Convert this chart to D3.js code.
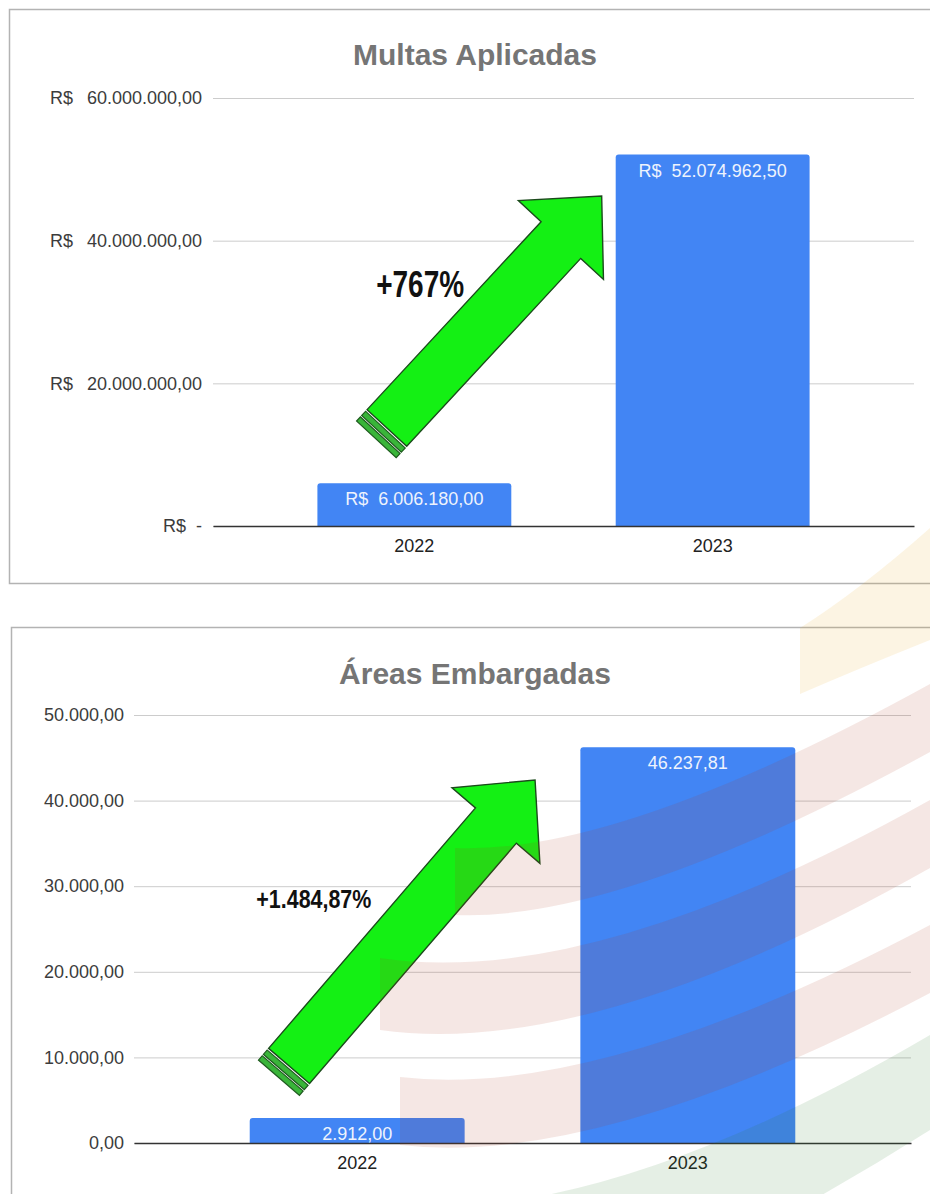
<!DOCTYPE html>
<html>
<head>
<meta charset="utf-8">
<script src="https://cdn.jsdelivr.net/npm/d3@7"></script>
<style>
  html, body { margin: 0; padding: 0; background: #ffffff; }
  svg { display: block; }
  text { font-family: "Liberation Sans", Arial, sans-serif; }
</style>
</head>
<body>
<svg id="chart" width="930" height="1194"></svg>
<script>
// ---- data ----
const years = ["2022", "2023"];

const multasTitle = "Multas Aplicadas";
const multasValues = [6006180.00, 52074962.50];
const multasTicks = [0, 20000000, 40000000, 60000000];
const multasGrowth = "+767%";

const areasTitle = "Áreas Embargadas";
const areasValues = [2912.00, 46237.81];
const areasTicks = [0, 10000, 20000, 30000, 40000, 50000];
const areasGrowth = "+1.484,87%";

// ---- formatting (pt-BR) ----
const br = d3.formatLocale({ decimal: ",", thousands: ".", grouping: [3], currency: ["R$ ", ""] });
const num = br.format(",.2f");

const svg = d3.select("#chart");
const BLUE = "#4285f4";

function barPath(x, y, w, h, r) {
  r = Math.min(r, h / 2, w / 2);
  return `M${x},${y + h}V${y + r}Q${x},${y} ${x + r},${y}H${x + w - r}Q${x + w},${y} ${x + w},${y + r}V${y + h}Z`;
}

// Growth arrow, built along its own axis and rotated into place
function drawArrow(g, tail, tip) {
  const dx = tip[0] - tail[0], dy = tip[1] - tail[1];
  const len = Math.hypot(dx, dy);
  const ang = Math.atan2(dy, dx) * 180 / Math.PI;
  const sw = 27, hw = 58, hl = 60, ls = len - hl;
  const a = g.append("g").attr("transform", `translate(${tail[0]},${tail[1]}) rotate(${ang})`);
  // tail bands
  [[-8, -2.2], [-15.5, -9.8]].forEach(([u0, u1]) => {
    a.append("rect").attr("x", u0).attr("y", -sw).attr("width", u1 - u0).attr("height", 2 * sw)
      .attr("fill", "#39b539").attr("stroke", "#1e5a1e").attr("stroke-width", 1.2);
  });
  a.append("path")
    .attr("d", `M0,${-sw}L${ls},${-sw}L${ls},${-hw}L${ls + hl},0L${ls},${hw}L${ls},${sw}L0,${sw}Z`)
    .attr("fill", "#14f014").attr("stroke", "#1b4a1b").attr("stroke-width", 1.4)
    .attr("stroke-linejoin", "miter");
}

function drawPanel(cfg) {
  const g = svg.append("g");
  const y = d3.scaleLinear().domain([0, cfg.ticks[cfg.ticks.length - 1]]).range([cfg.y0, cfg.y1]);
  const x = d3.scaleBand().domain(years).range([cfg.gx0, cfg.gx1]).paddingInner(0.35).paddingOuter(0.35);
  // index-position helper for annotations (0 = first category centre, 1 = second)
  const c0 = x(years[0]) + x.bandwidth() / 2, step = x.step();
  const px = p => c0 + p * step;

  // title
  g.append("text").attr("x", 475).attr("y", cfg.titleY).attr("text-anchor", "middle")
    .attr("font-size", 30).attr("font-weight", "bold").attr("fill", "#757575").text(cfg.title);

  // y axis with gridlines
  const ya = g.append("g").attr("transform", `translate(${cfg.gx0},0)`)
    .call(d3.axisLeft(y).tickValues(cfg.ticks).tickSize(-(cfg.gx1 - cfg.gx0))
      .tickPadding(cfg.tickPad).tickFormat(cfg.tickFmt));
  ya.select(".domain").remove();
  ya.selectAll(".tick line").attr("stroke", "#cccccc").attr("stroke-width", 1);
  ya.selectAll(".tick text").attr("font-size", 18).attr("fill", "#3c3c3c")
    .attr("font-family", "'Liberation Sans', Arial, sans-serif").style("white-space", "pre");
  if (cfg.currency) {
    ya.selectAll(".tick").filter(d => d !== 0).append("text")
      .attr("x", cfg.currencyX - cfg.gx0).attr("dy", "0.32em").attr("text-anchor", "start")
      .attr("font-size", 18).attr("fill", "#3c3c3c")
      .attr("font-family", "'Liberation Sans', Arial, sans-serif").text("R$");
  }

  // bars
  g.append("g").selectAll("path").data(cfg.values).join("path")
    .attr("d", (v, i) => barPath(x(years[i]), y(v), x.bandwidth(), y(0) - y(v), 3))
    .attr("fill", BLUE);

  // x axis baseline + category labels
  const xa = g.append("g").attr("transform", `translate(0,${y(0)})`)
    .call(d3.axisBottom(x).tickSize(0).tickSizeOuter(0).tickPadding(13));
  xa.select(".domain").attr("stroke", "#333333").attr("stroke-width", 1.5);
  xa.selectAll(".tick text").attr("font-size", 18).attr("fill", "#222222")
    .attr("font-family", "'Liberation Sans', Arial, sans-serif");

  // value labels inside bars
  g.append("g").selectAll("text").data(cfg.values).join("text")
    .attr("x", (v, i) => x(years[i]) + x.bandwidth() / 2)
    .attr("y", v => y(v) + 22)
    .attr("text-anchor", "middle").attr("font-size", 18).attr("fill", "#eef3fd")
    .style("white-space", "pre")
    .text(cfg.valueFmt);

  // growth arrow + label
  drawArrow(g, [px(cfg.arrow.tail[0]), y(cfg.arrow.tail[1])], [px(cfg.arrow.tip[0]), y(cfg.arrow.tip[1])]);
  g.append("text").attr("x", px(cfg.label.pos)).attr("y", y(cfg.label.val))
    .attr("font-family", "'DejaVu Sans Condensed', 'DejaVu Sans', sans-serif")
    .attr("font-weight", "bold").attr("font-size", cfg.label.size).attr("fill", "#111111")
    .attr("textLength", cfg.label.width).attr("lengthAdjust", "spacingAndGlyphs")
    .text(cfg.label.text);
}

// ---- card frames ----
svg.append("rect").attr("x", 9.5).attr("y", 9.5).attr("width", 940).attr("height", 574)
  .attr("fill", "#ffffff").attr("stroke", "#b3b3b3").attr("stroke-width", 1.5);
svg.append("rect").attr("x", 11.5).attr("y", 627.5).attr("width", 940).attr("height", 600)
  .attr("fill", "#ffffff").attr("stroke", "#b3b3b3").attr("stroke-width", 1.5);

// ---- Multas Aplicadas ----
drawPanel({
  title: multasTitle, titleY: 65,
  values: multasValues, ticks: multasTicks,
  y0: 526, y1: 98, gx0: 213, gx1: 914, tickPad: 11,
  tickFmt: d => d === 0 ? "R$  -" : num(d),
  currency: true, currencyX: 50,
  valueFmt: v => "R$  " + num(v),
  arrow: { tail: [-0.092, 13740000], tip: [0.628, 46260000] },
  label: { text: multasGrowth, pos: -0.128, val: 32100000, size: 37, width: 88 }
});

// ---- Áreas Embargadas ----
drawPanel({
  title: areasTitle, titleY: 684,
  values: areasValues, ticks: areasTicks,
  y0: 1143, y1: 715, gx0: 134, gx1: 911, tickPad: 10,
  tickFmt: d => num(d),
  currency: false,
  valueFmt: v => num(v),
  arrow: { tail: [-0.206, 9000], tip: [0.538, 42400] },
  label: { text: areasGrowth, pos: -0.305, val: 27450, size: 25, width: 115 }
});

// ---- faint background emblem bands laid over the page ----
const wm = svg.append("g").attr("pointer-events", "none");
const band = (t0, tc, t1, b1, bc, b0) =>
  `M${t0}Q${tc} ${t1}L${b1}Q${bc} ${b0}Z`;
wm.append("path").attr("d", band("800,628", "860,590", "930,528", "930,640", "860,668", "800,694"))
  .attr("fill", "#e6aa28").attr("opacity", 0.13);
wm.append("path").attr("d", band("455,848", "620,855", "930,684", "930,752", "620,922", "455,915"))
  .attr("fill", "#ae3824").attr("opacity", 0.12);
wm.append("path").attr("d", band("380,958", "590,990", "930,800", "930,868", "590,1060", "380,1030"))
  .attr("fill", "#ae3824").attr("opacity", 0.12);
wm.append("path").attr("d", band("400,1077", "600,1100", "930,925", "930,993", "600,1168", "400,1145"))
  .attr("fill", "#ae3824").attr("opacity", 0.12);
wm.append("path").attr("d", band("520,1200", "700,1170", "930,1035", "930,1130", "820,1200", "700,1260"))
  .attr("fill", "#287828").attr("opacity", 0.12);
</script>
</body>
</html>
